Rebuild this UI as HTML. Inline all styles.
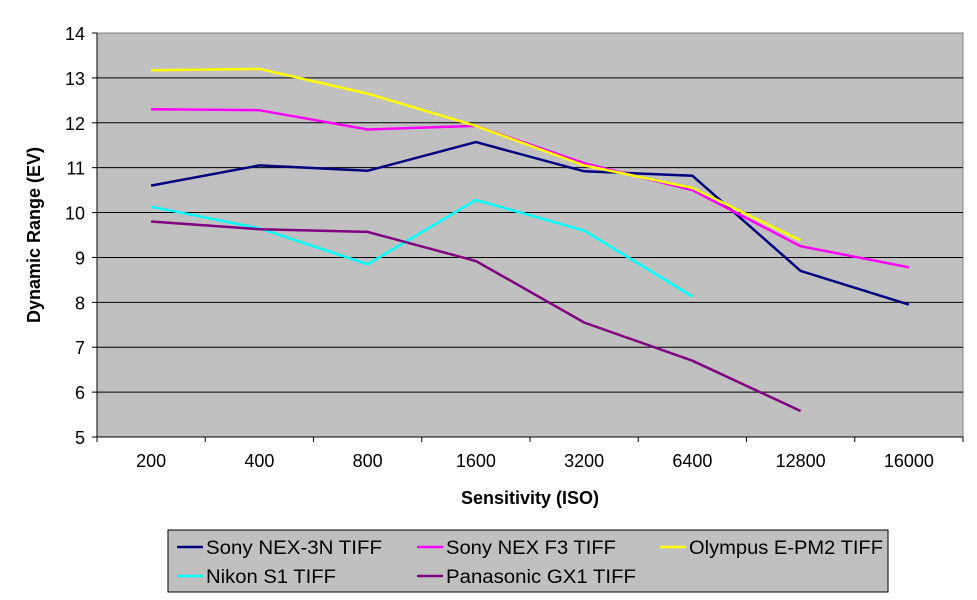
<!DOCTYPE html>
<html><head><meta charset="utf-8"><style>
body{margin:0;background:#fff;}
svg{display:block;font-family:"Liberation Sans",Arial,sans-serif;}
</style></head><body>
<svg id="chart" width="977" height="600">
<rect x="97" y="33" width="866" height="404" fill="#c0c0c0" stroke="#808080"/>
<g id="grid"></g><g id="axes"></g><g id="series"></g>
<text x="530" y="504" text-anchor="middle" font-size="18" font-weight="bold">Sensitivity (ISO)</text>
<text transform="translate(40,235) rotate(-90)" text-anchor="middle" font-size="18" font-weight="bold">Dynamic Range (EV)</text>
<g>
<rect x="168" y="530" width="720" height="62" fill="#c0c0c0" stroke="#000"/>
<g id="legend"></g>
</g>
</svg>
<script>
const categories=["200","400","800","1600","3200","6400","12800","16000"];
const yTicks=[5,6,7,8,9,10,11,12,13,14];
const seriesNames=["Sony NEX-3N TIFF","Sony NEX F3 TIFF","Olympus E-PM2 TIFF","Nikon S1 TIFF","Panasonic GX1 TIFF"];
const seriesColors=["#000080","#ff00ff","#ffff00","#00ffff","#800080"];
const sonyNex3n=[10.6,11.05,10.93,11.57,10.92,10.82,8.7,7.95];
const sonyNexF3=[12.3,12.28,11.85,11.93,11.1,10.5,9.25,8.78];
const olympus=[13.17,13.2,12.65,11.93,11.05,10.55,9.38,null];
const nikonS1=[10.13,9.65,8.85,10.28,9.6,8.13,null,null];
const panasonic=[9.8,9.63,9.57,8.92,7.55,6.7,5.58,null];
const allSeries=[sonyNex3n,sonyNexF3,olympus,nikonS1,panasonic];
const NS="http://www.w3.org/2000/svg";
const L=97,R=963,T=33,B=437,yMin=5,yMax=14;
const bw=(R-L)/categories.length;
const xs=i=>L+bw*(i+0.5);
const ys=v=>B-(v-yMin)/(yMax-yMin)*(B-T);
const legW=[176,170,194,130,190];
function mk(t,a,p){const e=document.createElementNS(NS,t);for(const k in a)e.setAttribute(k,a[k]);p.appendChild(e);return e;}
const grid=document.getElementById('grid'),axes=document.getElementById('axes'),ser=document.getElementById('series'),leg=document.getElementById('legend');
yTicks.forEach(v=>{
 if(v>yMin&&v<yMax){const g=mk('line',{x1:L,x2:R,y1:ys(v),y2:ys(v),stroke:'#000','stroke-width':1},grid);
 
 }
 const tk=mk('line',{x1:L-5,x2:L,y1:ys(v),y2:ys(v),stroke:'#000'},axes);
 
 
 const t=mk('text',{x:L-12,y:ys(v)+7,'text-anchor':'end','font-size':18},axes);t.textContent=v;
 
 
});
const ya=mk('line',{x1:L,x2:L,y1:T,y2:B,stroke:'#000'},axes);


const xa=mk('line',{x1:L,x2:R,y1:B,y2:B,stroke:'#000'},axes);


categories.forEach((c,i)=>{
 const tk=mk('line',{x1:L+bw*i,x2:L+bw*i,y1:B,y2:B+5,stroke:'#000'},axes);
 
 
 const t=mk('text',{x:xs(i),y:B+30,'text-anchor':'middle','font-size':18},axes);t.textContent=c;
 
 
});
mk('line',{x1:R,x2:R,y1:B,y2:B+5,stroke:'#000'},axes);
allSeries.forEach((d,s)=>{
 const pts=[];d.forEach((v,i)=>{if(v!==null)pts.push(xs(i).toFixed(1)+','+ys(v).toFixed(1));});
 const p=mk('polyline',{points:pts.join(' '),fill:'none',stroke:seriesColors[s],'stroke-width':2.5},ser);
 
 
 const col=s%3,row=Math.floor(s/3);
 const lx=[177,417,660][col],ly=[547,576][row];
 const ll=mk('line',{x1:lx,x2:lx+26,y1:ly,y2:ly,stroke:seriesColors[s],'stroke-width':2.5},leg);
 
 
 const t=mk('text',{x:lx+29,y:ly+7,'font-size':19,textLength:legW[s],lengthAdjust:'spacingAndGlyphs'},leg);t.textContent=seriesNames[s];
 
 
});
</script>
</body></html>
